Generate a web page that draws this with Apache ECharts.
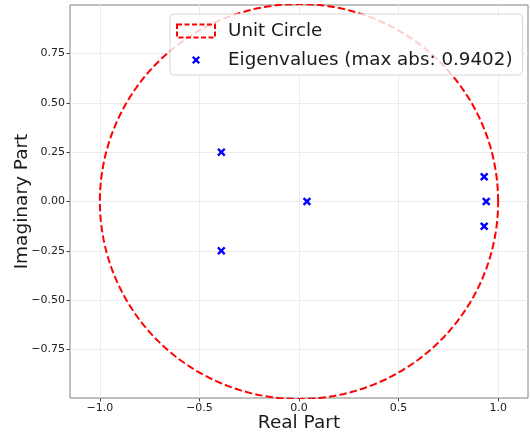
<!DOCTYPE html>
<html>
<head>
<meta charset="utf-8">
<script src="https://cdn.jsdelivr.net/npm/echarts@6/dist/echarts.min.js"></script>
<style>
  html, body { margin: 0; padding: 0; background: #fff; }
  #chart { width: 530px; height: 439px; }
</style>
</head>
<body>
<div id="chart"></div>
<script>
// Eigenvalues of the system matrix (real, imaginary)
const eigReal = [-0.39, -0.39, 0.04, 0.930, 0.9402, 0.930];
const eigImag = [0.25, -0.25, 0.0, 0.125, 0.0, -0.125];
const maxAbs = 0.9402;

// Axis ranges and tick positions
const xRange = [-1.15, 1.15];
const yRange = [-0.995, 0.995];
const xTicks = [-1.0, -0.5, 0.0, 0.5, 1.0];
const yTicks = [-0.75, -0.5, -0.25, 0.0, 0.25, 0.5, 0.75];

// Unit circle reference curve
const circle = [];
for (let i = 0; i <= 360; i++) {
  const t = (i / 360) * 2 * Math.PI;
  circle.push([Math.cos(t), Math.sin(t)]);
}

const eigPoints = eigReal.map((r, i) => [r, eigImag[i]]);

const font = 'DejaVu Sans';
const minus = s => s.replace('-', '\u2212');
// bold "x" marker; the legend version carries extra empty margin so it renders smaller
const xCross = 'path://M0,2L2,0L5,3L8,0L10,2L7,5L10,8L8,10L5,7L2,10L0,8L3,5Z';
const xCrossLegend = 'path://M-3,-3M13,13M0,2L2,0L5,3L8,0L10,2L7,5L10,8L8,10L5,7L2,10L0,8L3,5Z';
const eigName = 'Eigenvalues (max abs: ' + maxAbs.toFixed(4) + ')';

const chart = echarts.init(document.getElementById('chart'), null, { renderer: 'canvas' });
chart.setOption({
  animation: false,
  backgroundColor: '#fff',
  textStyle: { fontFamily: font },
  grid: {
    left: 70, top: 5, width: 458, height: 393,
    containLabel: false, outerBoundsMode: 'none',
    show: true, borderColor: '#808080', borderWidth: 1, backgroundColor: 'transparent'
  },
  xAxis: {
    type: 'value', min: xRange[0], max: xRange[1],
    name: 'Real Part', nameLocation: 'middle', nameGap: 16, nameMoveOverlap: false,
    nameTextStyle: { fontSize: 18.5, color: '#1a1a1a', fontFamily: font, verticalAlign: 'top' },
    axisLine: { show: false, onZero: false },
    axisTick: { show: true, customValues: xTicks, length: 3.5, lineStyle: { color: '#444' } },
    axisLabel: {
      customValues: xTicks, fontSize: 11, color: '#222', margin: 5, fontFamily: font,
      formatter: v => minus(v.toFixed(1))
    },
    splitLine: { show: true, lineStyle: { color: '#ececec', width: 1 } }
  },
  yAxis: {
    type: 'value', min: yRange[0], max: yRange[1],
    name: 'Imaginary Part', nameLocation: 'middle', nameGap: 38, nameRotate: 90, nameMoveOverlap: false,
    nameTextStyle: { fontSize: 18.5, color: '#1a1a1a', fontFamily: font },
    axisLine: { show: false, onZero: false },
    axisTick: { show: true, customValues: yTicks, length: 3.5, lineStyle: { color: '#444' } },
    axisLabel: {
      customValues: yTicks, fontSize: 11, color: '#222', margin: 5, fontFamily: font,
      formatter: v => minus(v.toFixed(2))
    },
    splitLine: { show: true, lineStyle: { color: '#ececec', width: 1 } }
  },
  legend: {
    orient: 'vertical', left: 170, top: 14,
    width: 345,
    padding: [8, 10, 6, 6],
    itemGap: 11, itemWidth: 38, itemHeight: 13,
    backgroundColor: 'rgba(255,255,255,0.8)',
    borderColor: '#d6d6d6', borderWidth: 1, borderRadius: 4,
    textStyle: { fontSize: 18.3, color: '#1a1a1a', fontFamily: font, padding: [0, 0, 0, 8] },
    data: [
      {
        name: 'Unit Circle', icon: 'rect',
        itemStyle: { color: 'rgba(0,0,0,0)', borderColor: '#ff0000', borderWidth: 2, borderType: [5, 2.5] }
      },
      {
        name: eigName, icon: xCrossLegend,
        itemStyle: { color: '#0000ff', borderWidth: 0 }
      }
    ]
  },
  series: [
    {
      name: 'Unit Circle', type: 'line', data: circle, showSymbol: false, symbol: 'none',
      lineStyle: { color: '#ff0000', width: 2, type: [7.4, 3.2] },
      itemStyle: { color: '#ff0000' },
      z: 2
    },
    {
      name: eigName, type: 'scatter', data: eigPoints,
      symbol: xCross, symbolSize: 8.5,
      itemStyle: { color: '#0000ff', opacity: 1 },
      z: 3
    }
  ]
});
</script>
</body>
</html>
